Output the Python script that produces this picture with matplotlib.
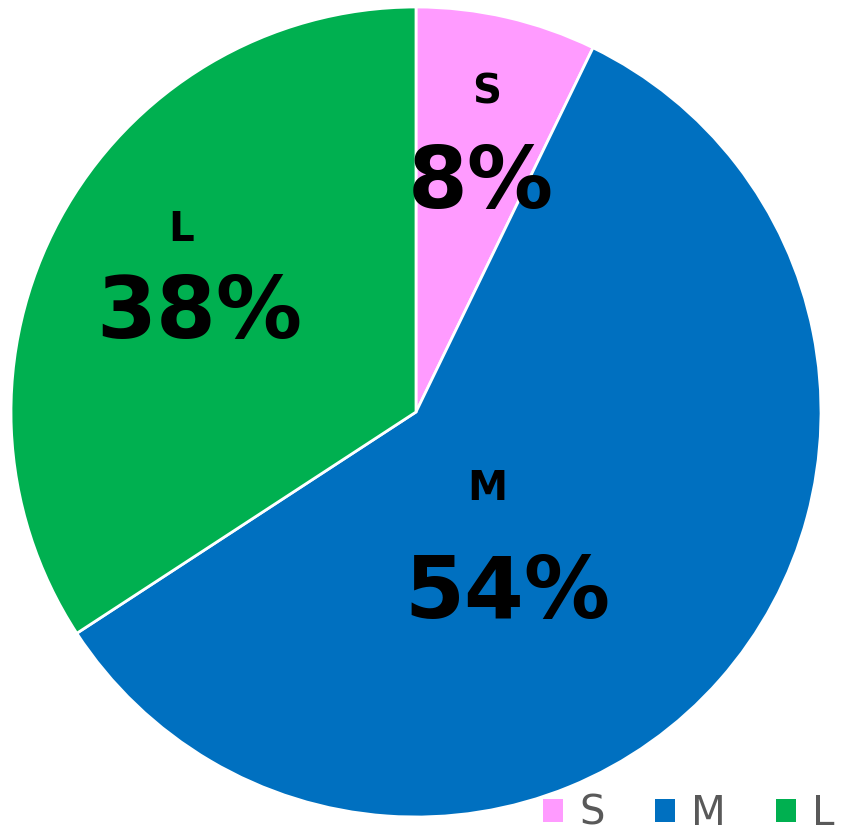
import matplotlib.pyplot as plt
from matplotlib.patches import Patch

# slice data
categories = ["S", "M", "L"]
shares = [7.2, 58.6, 34.2]          # slice sizes as drawn
pct_labels = ["8%", "54%", "38%"]   # percentages printed on the chart
colors = ["#FF9BFF", "#0070C0", "#00B050"]

fig = plt.figure(figsize=(8.41, 8.38), dpi=100)
ax = fig.add_axes([11 / 841, 21 / 838, 810 / 841, 810 / 838])

wedges, _ = ax.pie(shares, colors=colors, startangle=90, counterclock=False,
                   radius=1, wedgeprops=dict(edgecolor="white", linewidth=2))
ax.set_xlim(-1, 1)
ax.set_ylim(-1, 1)
ax.set_aspect("equal")
ax.axis("off")

# label positions (name, percentage) in data coords
name_pos = [(0.175, 0.79), (0.175, -0.19), (-0.58, 0.45)]
pct_pos = [(0.16, 0.562), (0.225, -0.45), (-0.535, 0.24)]
for cat, pct, npos, ppos in zip(categories, pct_labels, name_pos, pct_pos):
    ax.text(npos[0], npos[1], cat, ha="center", va="center",
            fontsize=29, fontweight="bold", color="black")
    ax.text(ppos[0], ppos[1], pct, ha="center", va="center",
            fontsize=62, fontweight="bold", color="black")

handles = [Patch(facecolor=c, edgecolor="none") for c in colors]
fig.legend(handles, categories, loc="lower right", ncol=3, frameon=False,
           fontsize=29, labelcolor="#595959", handlelength=0.5, handleheight=0.5,
           handletextpad=0.4, columnspacing=1.25, borderaxespad=0,
           bbox_to_anchor=(1.012, -0.014))

fig.savefig("out.png", dpi=100)
